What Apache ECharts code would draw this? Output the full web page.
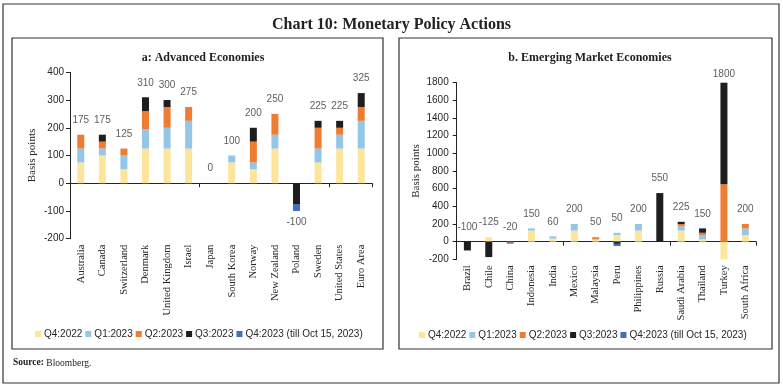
<!DOCTYPE html>
<html>
<head>
<meta charset="utf-8">
<script src="https://cdn.jsdelivr.net/npm/echarts@6/dist/echarts.min.js"></script>
<style>
html,body{margin:0;padding:0;background:#fff;}
#c{width:783px;height:385px;}
</style>
</head>
<body>
<div id="c"></div>
<script>
// ---------- DATA ----------
const quarterNames = ['Q4:2022', 'Q1:2023', 'Q2:2023', 'Q3:2023', 'Q4:2023 (till Oct 15, 2023)'];

const advCategories = ['Australia','Canada','Switzerland','Denmark','United Kingdom','Israel','Japan','South Korea','Norway','New Zealand','Poland','Sweden','United States','Euro Area'];
const advQ4_2022 = [75, 100, 50, 125, 125, 125, 0, 75, 50, 125, 0, 75, 125, 125];
const advQ1_2023 = [50, 25, 50, 70, 75, 100, 0, 25, 25, 50, 0, 50, 50, 100];
const advQ2_2023 = [50, 25, 25, 65, 75, 50, 0, 0, 75, 75, 0, 75, 25, 50];
const advQ3_2023 = [0, 25, 0, 50, 25, 0, 0, 0, 50, 0, -75, 25, 25, 50];
const advQ4_2023 = [0, 0, 0, 0, 0, 0, 0, 0, 0, 0, -25, 0, 0, 0];

const emCategories = ['Brazil','Chile','China','Indonesia','India','Mexico','Malaysia','Peru','Philippines','Russia','Saudi Arabia','Thailand','Turkey','South Africa'];
const emQ4_2022 = [0, 50, 0, 125, 35, 125, 25, 75, 125, 0, 125, 25, -300, 75];
const emQ1_2023 = [0, 0, 0, 25, 25, 75, 0, 25, 75, 0, 50, 50, -50, 75];
const emQ2_2023 = [0, 0, -10, 0, 0, 0, 25, 0, 0, 0, 25, 25, 650, 50];
const emQ3_2023 = [-100, -175, -10, 0, 0, 0, 0, -25, 0, 550, 25, 50, 1500, 0];
const emQ4_2023 = [0, 0, 0, 0, 0, 0, 0, -25, 0, 0, 0, 0, 0, 0];

const advTicks = {min: -200, max: 400, interval: 100};
const emTicks = {min: -200, max: 1800, interval: 200};

// ---------- STYLE ----------
const colors = ['#FDE59B', '#94C6E7', '#EF7D31', '#1E1E1E', '#3E6FC0'];
const serif = '"Liberation Serif", "Times New Roman", serif';
const sans = '"Liberation Sans", Arial, sans-serif';
const textCol = '#262626';

const chart = echarts.init(document.getElementById('c'), null, {renderer: 'canvas'});

function buildPanel(gi, cats, seriesArr, ticks, negBelow) {
  const series = [];
  seriesArr.forEach((arr, i) => {
    series.push({
      name: quarterNames[i], type: 'bar', stack: 'p' + gi,
      xAxisIndex: gi * 2, yAxisIndex: gi,
      barWidth: 7, data: arr, itemStyle: {color: colors[i]},
      clip: true, animation: false
    });
  });
  // total labels
  const labelData = cats.map((c, k) => {
    let pos = 0, neg = 0;
    seriesArr.forEach(a => { if (a[k] > 0) pos += a[k]; else neg += a[k]; });
    const total = pos + neg;
    if (total < 0 && negBelow) {
      return {value: Math.max(neg, ticks.min), total: total, label: {position: 'bottom', distance: 6}};
    }
    const clipped = pos > ticks.max;
    return {value: Math.min(pos, ticks.max), total: total, label: {position: 'top', distance: clipped ? 3 : 9}};
  });
  series.push({
    type: 'scatter', xAxisIndex: gi * 2, yAxisIndex: gi,
    symbolSize: 1, itemStyle: {color: 'rgba(0,0,0,0)'},
    data: labelData, animation: false, silent: true,
    label: {show: true, color: '#333', fontFamily: sans, fontSize: 10,
      formatter: p => String(p.data.total)}
  });
  return series;
}

const advSeries = buildPanel(0, advCategories, [advQ4_2022, advQ1_2023, advQ2_2023, advQ3_2023, advQ4_2023], advTicks, true);
const emSeries = buildPanel(1, emCategories, [emQ4_2022, emQ1_2023, emQ2_2023, emQ3_2023, emQ4_2023], emTicks, false);

function xAxes(gi, cats) {
  return [
    {type: 'category', gridIndex: gi, data: cats,
      axisLine: {show: true, onZero: true, lineStyle: {color: '#222', width: 1}},
      axisTick: {show: true, length: 4, lineStyle: {color: '#222'}},
      axisLabel: {show: false}},
    {type: 'category', gridIndex: gi, data: cats, position: 'bottom',
      axisLine: {show: false, onZero: false}, axisTick: {show: false},
      axisLabel: {show: true, rotate: 90, margin: 6, interval: 0,
        fontFamily: serif, fontSize: 10.5, color: textCol}}
  ];
}
function yAxis(gi, t, gap, margin) {
  return {type: 'value', gridIndex: gi, min: t.min, max: t.max, interval: t.interval,
    name: 'Basis points', nameLocation: 'middle', nameGap: gap, nameRotate: 90,
    nameTextStyle: {fontFamily: serif, fontSize: 11, color: textCol},
    axisLine: {show: true, lineStyle: {color: '#222', width: 1}},
    axisTick: {show: true, length: 4, lineStyle: {color: '#222'}},
    splitLine: {show: false},
    axisLabel: {fontFamily: sans, fontSize: 10, color: textCol, margin: margin,
      formatter: v => String(v)}};
}

const legendCommon = {
  data: quarterNames, icon: 'rect', itemWidth: 6, itemHeight: 6, itemGap: 3,
  textStyle: {fontFamily: sans, fontSize: 10, color: textCol, padding: [0, 0, 0, -2]},
  selectedMode: false
};

chart.setOption({
  animation: false,
  title: [
    {text: 'Chart 10: Monetary Policy Actions', left: 'center', top: 12,
      textStyle: {fontFamily: serif, fontSize: 16, fontWeight: 'bold', color: '#222'}},
    {text: 'a: Advanced Economies', left: 198, top: 47, textAlign: 'center',
      textStyle: {fontFamily: serif, fontSize: 12, fontWeight: 'bold', color: '#222'}},
    {text: 'b. Emerging Market Economies', left: 585, top: 47, textAlign: 'center',
      textStyle: {fontFamily: serif, fontSize: 12, fontWeight: 'bold', color: '#222'}}
  ],
  legend: [
    Object.assign({}, legendCommon, {left: 30, top: 324}),
    Object.assign({}, legendCommon, {left: 414, top: 325})
  ],
  grid: [
    {left: 70, top: 72.3, width: 302, height: 166.4},
    {left: 456.7, top: 82.7, width: 299.3, height: 176.6}
  ],
  xAxis: xAxes(0, advCategories).concat(xAxes(1, emCategories)),
  yAxis: [yAxis(0, advTicks, 32, 6), yAxis(1, emTicks, 35, 8)],
  series: advSeries.concat(emSeries),
  graphic: [
    {type: 'rect', shape: {x: 3, y: 4, width: 776, height: 379}, style: {fill: 'none', stroke: '#333', lineWidth: 1.2}, silent: true},
    {type: 'rect', shape: {x: 12, y: 38, width: 371, height: 311}, style: {fill: 'none', stroke: '#333', lineWidth: 1.2}, silent: true},
    {type: 'rect', shape: {x: 399, y: 38, width: 373, height: 311}, style: {fill: 'none', stroke: '#333', lineWidth: 1.2}, silent: true},
    {type: 'text', left: 13, top: 358, style: {
      text: '{b|Source:} Bloomberg.', font: '9.5px ' + serif, fill: '#222',
      rich: {b: {fontWeight: 'bold', fontFamily: serif, fontSize: 9.5, fill: '#222'}}}}
  ]
});
</script>
</body>
</html>
